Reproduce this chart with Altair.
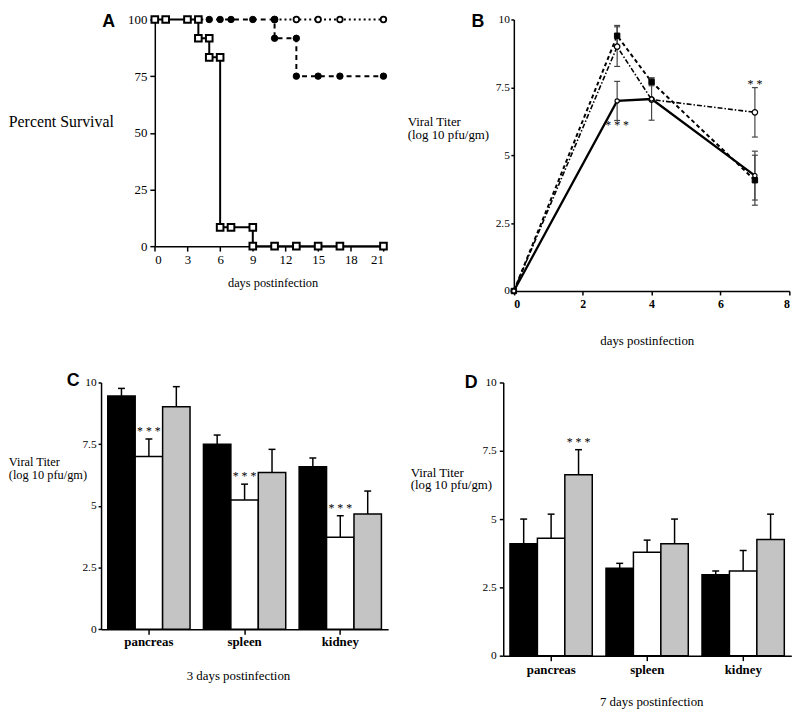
import altair as alt
import pandas as pd

SERIF = "Liberation Serif, Times New Roman, Times, serif"
SANS = "Liberation Sans, Arial, Helvetica, sans-serif"

panel_letters = ["A", "B", "C", "D"]

# ---------------- Panel A : percent survival ----------------
a_sq_day = [0, 1, 3, 4, 4, 5, 5, 6, 6, 7, 9, 9, 11, 13, 15, 17, 21]
a_sq_pct = [100, 100, 100, 100, 91.7, 91.7, 83.3, 83.3, 8.3, 8.3, 8.3, 0, 0, 0, 0, 0, 0]
a_fc_day = [4, 5, 6, 7, 9, 11, 11, 13, 13, 15, 17, 21]
a_fc_pct = [100, 100, 100, 100, 100, 100, 91.7, 91.7, 75, 75, 75, 75]
a_oc_day = [11, 13, 15, 17, 21]
a_oc_pct = [100, 100, 100, 100, 100]
a_xticks = [0, 3, 6, 9, 12, 15, 18, 21]
a_yticks = [0, 25, 50, 75, 100]

# ---------------- Panel B : viral titer time course ----------------
b_days = [0, 3, 4, 7]
b_series = ["s1", "s2", "s3"]
b_vals = {"s1": [0, 7.0, 7.07, 4.25], "s2": [0, 9.4, 7.7, 4.08], "s3": [0, 9.0, 7.05, 6.58]}
b_errs = {"s1": [0, 0.72, 0.78, 0.9], "s2": [0, 0.38, 0.14, 0.92], "s3": [0, 0.73, 0.0, 0.91]}
b_star_day = [3, 7]
b_star_val = [6.12, 7.63]
b_star_txt = ["* * *", "* *"]
b_xticks = [0, 2, 4, 6, 8]
v_yticks = [0, 2.5, 5, 7.5, 10]

# ---------------- Panels C / D : organ titers ----------------
organs = ["pancreas", "spleen", "kidney"]
groups = ["black", "white", "dotted"]
c_vals = {"black": [9.45, 7.5, 6.59], "white": [7.0, 5.24, 3.73], "dotted": [9.02, 6.35, 4.67]}
c_errs = {"black": [0.31, 0.37, 0.35], "white": [0.71, 0.64, 0.87], "dotted": [0.81, 0.94, 0.93]}
c_sig = {"black": ["", "", ""], "white": ["* * *", "* * *", "* * *"], "dotted": ["", "", ""]}
d_vals = {"black": [4.1, 3.2, 2.96], "white": [4.3, 3.79, 3.1], "dotted": [6.62, 4.1, 4.25]}
d_errs = {"black": [0.9, 0.18, 0.14], "white": [0.88, 0.44, 0.75], "dotted": [0.92, 0.9, 0.93]}
d_sig = {"black": ["", "", ""], "white": ["", "", ""], "dotted": ["* * *", "", ""]}

PLAIN = "'' + datum.value"


def letter_layer(letter, x, y):
    return alt.Chart(pd.DataFrame({"t": [letter]})).mark_text(
        font=SANS, fontWeight="bold", fontSize=18, align="left", baseline="top", color="black"
    ).encode(text="t:N", x=alt.value(x), y=alt.value(y))


# ---------------- build A ----------------
A_LEFT, A_PLOT, A_H = 54.3, 231, 229
a_xs = alt.Scale(domain=[0, 21], range=[A_LEFT, A_LEFT + A_PLOT], nice=False, zero=False)
a_ys = alt.Scale(domain=[0, 100], nice=False)
a_x_axis = alt.Axis(values=a_xticks, title="days postinfection", titleX=173.3, titleY=37,
                    titleAlign="center", titleBaseline="middle", titleFontSize=12.5,
                    labelFontSize=13, tickSize=5, labelPadding=3, labelExpr=PLAIN)
a_y_axis = alt.Axis(values=a_yticks, title="Percent Survival", titleAngle=0, titleX=-148, titleY=103,
                    titleAlign="left", titleBaseline="middle", titleFontSize=16,
                    labelFontSize=13, tickSize=5, labelPadding=3, offset=-A_LEFT, labelExpr=PLAIN)


def a_layers(days, pcts, line_kw, pt_kw):
    df = pd.DataFrame({"day": days, "pct": pcts, "k": list(range(len(days)))})
    enc = dict(x=alt.X("day:Q", scale=a_xs, axis=a_x_axis),
               y=alt.Y("pct:Q", scale=a_ys, axis=a_y_axis),
               order=alt.Order("k:Q"))
    base = alt.Chart(df)
    return [base.mark_line(color="black", **line_kw).encode(**enc),
            base.mark_point(opacity=1, **pt_kw).encode(**enc)]


a_parts = []
a_parts += a_layers(a_oc_day, a_oc_pct, dict(strokeWidth=2, strokeDash=[2, 3]),
                    dict(shape="circle", filled=True, fill="white", stroke="black", strokeWidth=1.8, size=32))
a_parts += a_layers(a_fc_day, a_fc_pct, dict(strokeWidth=2, strokeDash=[5, 4]),
                    dict(shape="circle", filled=True, fill="black", stroke="black", strokeWidth=1, size=42))
a_parts += a_layers(a_sq_day, a_sq_pct, dict(strokeWidth=2),
                    dict(shape="square", filled=True, fill="white", stroke="black", strokeWidth=2, size=45))
a_parts.append(letter_layer(panel_letters[0], 1.3, -6))
chart_a = alt.layer(*a_parts).properties(width=A_LEFT + A_PLOT, height=A_H)

# ---------------- build B ----------------
B_LEFT, B_PLOT, B_H = 10.7, 278.3, 274.3
b_rows = []
for s in b_series:
    for i, d in enumerate(b_days):
        v, e = b_vals[s][i], b_errs[s][i]
        b_rows.append({"series": s, "day": d, "val": v, "err": e, "lo": v - e, "hi": v + e, "k": i})
b_df = pd.DataFrame(b_rows)
b_xs = alt.Scale(domain=[0, 8], range=[B_LEFT, B_LEFT + B_PLOT], nice=False, zero=False)
b_ys = alt.Scale(domain=[0, 10], nice=False)
b_x_axis = alt.Axis(values=b_xticks, title="days postinfection", titleX=145, titleY=50,
                    titleAlign="center", titleBaseline="middle", titleFontSize=13,
                    labelFontSize=12, labelFontWeight="bold", tickSize=4, labelPadding=4, labelExpr=PLAIN)
b_y_axis = alt.Axis(values=v_yticks, labelExpr=PLAIN, title=["Viral Titer", "(log 10 pfu/gm)"],
                    titleAngle=0, titleX=-107.7, titleY=97.6, titleAlign="left", titleBaseline="top",
                    titleLineHeight=13, titleFontSize=13, labelFontSize=11.5, tickSize=3,
                    labelPadding=1.5, offset=-B_LEFT)
bx = alt.X("day:Q", scale=b_xs, axis=b_x_axis)
b_base = alt.Chart(b_df)
b_line_styles = {"s1": dict(strokeWidth=2.3),
                 "s2": dict(strokeWidth=2, strokeDash=[4, 3]),
                 "s3": dict(strokeWidth=1.6, strokeDash=[5, 2, 1.5, 2])}
b_pt_styles = {"s1": dict(shape="circle", fill="white", stroke="black", strokeWidth=1.2, size=18),
               "s2": dict(shape="square", fill="black", stroke="black", strokeWidth=1, size=30),
               "s3": dict(shape="circle", fill="white", stroke="black", strokeWidth=1.2, size=30)}
b_parts = []
for s in ["s3", "s2", "s1"]:
    b_parts.append(b_base.transform_filter(alt.datum.series == s).mark_line(color="black", **b_line_styles[s])
                   .encode(x=bx, y=alt.Y("val:Q", scale=b_ys, axis=b_y_axis), order=alt.Order("k:Q")))
eb = b_base.transform_filter(alt.datum.err > 0)
b_parts.append(eb.mark_rule(color="#444", strokeWidth=1.2).encode(
    x=bx, y=alt.Y("lo:Q", scale=b_ys, axis=b_y_axis), y2="hi:Q"))
b_parts.append(eb.mark_tick(orient="horizontal", color="#444", size=6, thickness=1.2, opacity=1).encode(
    x=bx, y=alt.Y("lo:Q", scale=b_ys, axis=b_y_axis)))
b_parts.append(eb.mark_tick(orient="horizontal", color="#444", size=6, thickness=1.2, opacity=1).encode(
    x=bx, y=alt.Y("hi:Q", scale=b_ys, axis=b_y_axis)))
for s in ["s3", "s2", "s1"]:
    b_parts.append(b_base.transform_filter(alt.datum.series == s)
                   .mark_point(filled=True, opacity=1, **b_pt_styles[s])
                   .encode(x=bx, y=alt.Y("val:Q", scale=b_ys, axis=b_y_axis)))
b_star_df = pd.DataFrame({"day": b_star_day, "val": b_star_val, "txt": b_star_txt})
b_parts.append(alt.Chart(b_star_df).mark_text(font=SERIF, fontSize=12, baseline="middle", color="black")
               .encode(x=bx, y=alt.Y("val:Q", scale=b_ys, axis=b_y_axis), text="txt:N"))
b_parts.append(letter_layer(panel_letters[1], -32, -6))
chart_b = alt.layer(*b_parts).properties(width=B_LEFT + B_PLOT, height=B_H)


# ---------------- build C / D ----------------
def bar_panel(vals, errs, sig, width, height, xtitle, xtx, xty, lab_pad, ytx, yty, ylh, yfs, ytick, ypad,
              letter, lx, ly):
    rows = []
    for g in groups:
        for i, o in enumerate(organs):
            rows.append({"organ": o, "group": g, "val": vals[g][i], "top": vals[g][i] + errs[g][i],
                         "sig": sig[g][i]})
    df = pd.DataFrame(rows)
    x_axis = alt.Axis(title=xtitle, titleX=xtx, titleY=xty, titleAlign="center", titleBaseline="middle",
                      titleFontSize=13, labelAngle=0, labelFontSize=13, labelFontWeight="bold",
                      tickSize=5, labelPadding=lab_pad)
    y_axis = alt.Axis(values=v_yticks, labelExpr=PLAIN, title=["Viral Titer", "(log 10 pfu/gm)"],
                      titleAngle=0, titleX=ytx, titleY=yty, titleAlign="left", titleBaseline="top",
                      titleLineHeight=ylh, titleFontSize=yfs, labelFontSize=11.5, tickSize=ytick,
                      labelPadding=ypad)
    x = alt.X("organ:N", sort=organs, scale=alt.Scale(paddingInner=0.14, paddingOuter=0.07), axis=x_axis)
    xo = alt.XOffset("group:N", sort=groups, scale=alt.Scale(paddingInner=0, paddingOuter=0))
    ys = alt.Scale(domain=[0, 10], nice=False)
    base = alt.Chart(df)
    bars = base.mark_bar(stroke="black", strokeWidth=1.5).encode(
        x=x, xOffset=xo, y=alt.Y("val:Q", scale=ys, axis=y_axis),
        fill=alt.Fill("group:N", sort=groups,
                      scale=alt.Scale(domain=groups, range=["black", "white", "#c4c4c4"]), legend=None))
    rule = base.mark_rule(color="black", strokeWidth=1.5).encode(
        x=x, xOffset=xo, y=alt.Y("val:Q", scale=ys, axis=y_axis), y2="top:Q")
    cap = base.mark_tick(orient="horizontal", color="black", size=7, thickness=1.5, opacity=1).encode(
        x=x, xOffset=xo, y=alt.Y("top:Q", scale=ys, axis=y_axis))
    stars = base.mark_text(font=SERIF, fontSize=12, baseline="middle", dy=-8, color="black").encode(
        x=x, xOffset=xo, y=alt.Y("top:Q", scale=ys, axis=y_axis), text="sig:N")
    return alt.layer(bars, rule, cap, stars, letter_layer(letter, lx, ly)).properties(width=width, height=height)


chart_c = bar_panel(c_vals, c_errs, c_sig, 290, 249.3, "3 days postinfection", 138.3, 47, 1.5,
                    -93.7, 74.3, 12.5, 12.5, 3, 2, panel_letters[2], -34.7, -10)
chart_d = bar_panel(d_vals, d_errs, d_sig, 291, 276, "7 days postinfection", 149.5, 46.3, 3.5,
                    -94, 84.6, 13, 13, 4, 3, panel_letters[3], -39, -8)

chart = alt.concat(chart_a, chart_b, chart_c, chart_d, columns=2,
                   spacing={"row": 90.7, "column": 115.3}, bounds="flush", align="all",
                   padding=0).configure_view(stroke=None).configure_axis(
    grid=False, domainColor="black", domainWidth=1.5, tickColor="black", tickWidth=1.5,
    labelColor="black", titleColor="black", labelFont=SERIF, titleFont=SERIF,
    titleFontWeight="normal", labelOverlap=False)

chart.save("out.html", embed_options={"renderer": "svg", "actions": False})
